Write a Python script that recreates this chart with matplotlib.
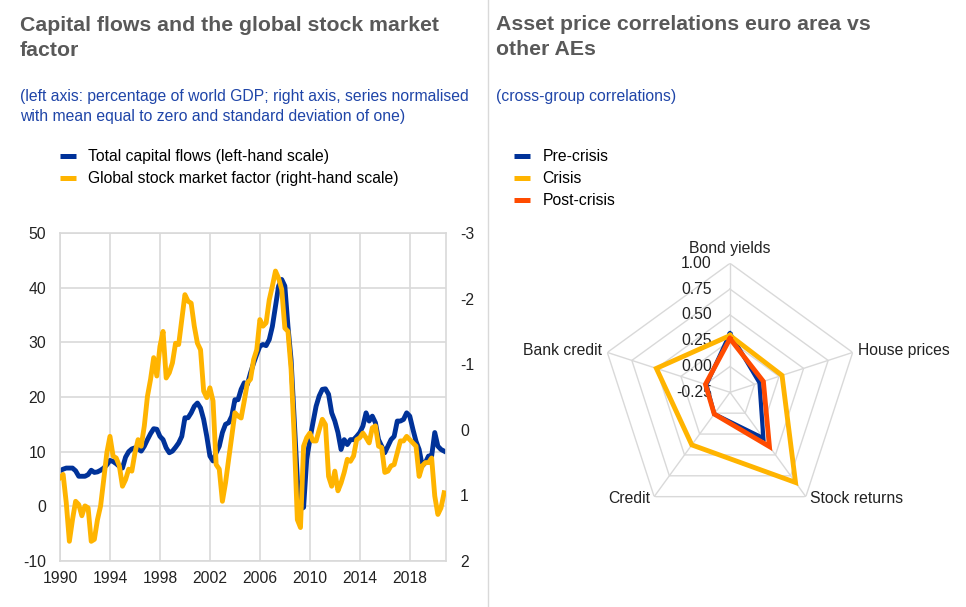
import numpy as np
import pandas as pd
import matplotlib
matplotlib.use("Agg")
import matplotlib.pyplot as plt
from matplotlib.lines import Line2D

plt.rcParams["font.family"] = ["Liberation Sans", "DejaVu Sans"]
plt.rcParams["axes.unicode_minus"] = False

# left chart: quarterly, 1990Q1 - 2020Q4
quarters = pd.period_range("1990Q1", "2020Q4", freq="Q")
capital_flows = [
    6.5, 6.8, 7.0, 7.0, 7.0, 6.5, 5.5, 5.5, 5.5, 5.8, 6.6, 6.2,
    6.3, 6.6, 7.0, 7.6, 8.4, 8.2, 7.8, 7.3, 7.0, 9.0, 10.0, 10.5,
    10.7, 10.5, 10.1, 11.0, 12.2, 13.3, 14.2, 14.1, 12.8, 12.2, 10.7, 9.8,
    10.1, 10.8, 11.6, 12.8, 16.2, 16.2, 17.1, 18.3, 18.9, 18.0, 15.9, 12.8,
    9.2, 8.3, 9.8, 11.0, 13.5, 15.0, 15.3, 16.5, 19.5, 19.5, 21.4, 22.6,
    22.3, 24.4, 26.2, 27.8, 29.3, 29.6, 29.4, 30.5, 32.9, 36.6, 40.3, 41.5,
    40.3, 32.9, 26.8, 15.9, 4.9, -0.5, -0.2, 8.6, 12.2, 15.3, 18.3, 20.2,
    21.4, 21.5, 20.5, 17.1, 15.6, 13.5, 10.4, 12.2, 11.3, 12.2, 12.2, 12.8,
    13.5, 14.7, 17.1, 15.6, 16.5, 15.3, 12.2, 11.0, 9.8, 11.0, 12.2, 12.8,
    15.6, 15.6, 15.9, 17.1, 16.5, 14.1, 11.9, 10.4, 7.4, 8.0, 9.2, 9.2,
    13.5, 11.0, 10.4, 10.1,
]
stock_factor = [
    0.73, 0.68, 1.11, 1.70, 1.37, 1.09, 1.14, 1.31, 1.16, 1.19, 1.70, 1.67,
    1.37, 1.16, 0.76, 0.35, 0.10, 0.40, 0.43, 0.55, 0.86, 0.76, 0.60, 0.63,
    0.35, 0.15, 0.25, -0.06, -0.51, -0.77, -1.10, -0.82, -1.27, -1.50, -0.79, -0.87,
    -1.02, -1.32, -1.30, -1.68, -2.06, -1.96, -1.93, -1.58, -1.32, -1.22, -0.59, -0.49,
    -0.64, -0.44, 0.53, 0.60, 1.09, 0.81, 0.45, 0.10, -0.26, -0.21, -0.18, -0.44,
    -0.72, -0.77, -1.07, -1.22, -1.68, -1.58, -1.63, -1.98, -2.19, -2.42, -2.31, -2.14,
    -1.55, -1.50, -0.92, 0.10, 1.37, 1.49, 0.25, 0.12, 0.05, 0.17, 0.17, 0.00,
    -0.16, -0.08, 0.71, 0.86, 0.63, 0.93, 0.81, 0.65, 0.45, 0.48, 0.40, 0.15,
    0.12, 0.05, 0.12, 0.20, -0.03, -0.06, 0.25, 0.27, 0.65, 0.63, 0.55, 0.53,
    0.35, 0.17, 0.17, 0.10, 0.15, 0.20, 0.25, 0.71, 0.55, 0.50, 0.50, 0.43,
    1.01, 1.29, 1.19, 0.96,
]
year_ticks = list(range(1990, 2019, 4))
left_ticks = [-10, 0, 10, 20, 30, 40, 50]
right_ticks = [-3, -2, -1, 0, 1, 2]

# right chart: radar
radar_categories = ["Bond yields", "House prices", "Stock returns", "Credit", "Bank credit"]
pre_crisis = [0.32, 0.05, 0.30, 0.01, -0.01]
crisis = [0.30, 0.28, 0.83, 0.38, 0.50]
post_crisis = [0.27, 0.09, 0.40, 0.01, 0.00]
radar_ticks = [-0.25, 0.0, 0.25, 0.5, 0.75, 1.0]

BLUE = "#003299"
YELLOW = "#ffb400"
ORANGE = "#ff4b00"
GRID = "#d9d9d9"
TITLE = "#595959"
SUB = "#1f45a8"
TXT = "#222222"
FS = 11.3

W, H = 966, 607
fig = plt.figure(figsize=(W / 100, H / 100), dpi=100)


def fx(px):
    return px / W


def fy(py):
    return 1 - py / H


# ---- titles
fig.text(fx(20), fy(31), "Capital flows and the global stock market", fontsize=15.3,
         weight="bold", color=TITLE, va="baseline")
fig.text(fx(20), fy(56), "factor", fontsize=15.3, weight="bold", color=TITLE, va="baseline")
fig.text(fx(20), fy(101), "(left axis: percentage of world GDP; right axis, series normalised",
         fontsize=FS, color=SUB, va="baseline")
fig.text(fx(20), fy(121), "with mean equal to zero and standard deviation of one)",
         fontsize=FS, color=SUB, va="baseline")

fig.text(fx(496), fy(30), "Asset price correlations euro area vs", fontsize=15.3,
         weight="bold", color=TITLE, va="baseline")
fig.text(fx(496), fy(55), "other AEs", fontsize=15.3, weight="bold", color=TITLE, va="baseline")
fig.text(fx(496), fy(101), "(cross-group correlations)", fontsize=FS, color=SUB, va="baseline")

fig.add_artist(Line2D([fx(487.5), fx(487.5)], [0, 1], transform=fig.transFigure,
                      color=GRID, lw=1))

# ---- left chart
x = quarters.year + (quarters.quarter - 1) / 4
ax = fig.add_axes([fx(60), fy(561), fx(446) - fx(60), (561 - 233) / H])
ax.plot(x, capital_flows, color=BLUE, lw=3.5, solid_joinstyle="round")
ax.set_xlim(1990, 2020.9)
ax.set_ylim(-10, 50)
ax.set_xticks(year_ticks)
ax.set_yticks(left_ticks)
ax.grid(color=GRID, lw=1.2)
ax.set_axisbelow(True)
for s in ax.spines.values():
    s.set_color(GRID)
    s.set_linewidth(1.2)
ax.tick_params(length=0, labelsize=FS, colors=TXT)
ax.tick_params(axis="y", pad=10)
ax.tick_params(axis="x", pad=7)

ax2 = ax.twinx()
ax2.plot(x, stock_factor, color=YELLOW, lw=3.5, solid_joinstyle="round")
ax2.set_ylim(2, -3)
ax2.set_yticks(right_ticks)
for s in ax2.spines.values():
    s.set_visible(False)
ax2.tick_params(length=0, labelsize=FS, colors=TXT, pad=10)

legend_kw = dict(loc="upper left", frameon=False, fontsize=FS, handlelength=1.05,
                 handletextpad=0.75, labelspacing=0.45, borderpad=0, borderaxespad=0)

h1 = [Line2D([], [], color=BLUE, lw=3.6, solid_capstyle="butt"),
      Line2D([], [], color=YELLOW, lw=3.6, solid_capstyle="butt")]
fig.legend(h1, ["Total capital flows (left-hand scale)",
                "Global stock market factor (right-hand scale)"],
           bbox_to_anchor=(fx(60), fy(149)), **legend_kw)

# ---- radar chart
cx, cy, R = 730, 392.3, 129
rax = fig.add_axes([fx(cx - R), fy(cy + R), 2 * R / W, 2 * R / H], projection="polar")
rax.set_theta_offset(np.pi / 2)
rax.set_theta_direction(-1)
rax.set_ylim(radar_ticks[0], radar_ticks[-1])
rax.grid(False)
rax.spines["polar"].set_visible(False)
rax.set_xticks([])
rax.set_yticks([])
rax.patch.set_alpha(0)

angles = np.linspace(0, 2 * np.pi, len(radar_categories), endpoint=False)
closed = np.append(angles, angles[0])
for level in radar_ticks[1:]:
    rax.plot(closed, [level] * len(closed), color=GRID, lw=1, zorder=1)
for a in angles:
    rax.plot([a, a], [radar_ticks[0], radar_ticks[-1]], color=GRID, lw=1, zorder=1)

for level in radar_ticks:
    rax.annotate(f"{level:.2f}", xy=(0, level), xytext=(-18, 0), textcoords="offset pixels",
                 ha="right", va="center", fontsize=FS, color=TXT, zorder=2)

label_pos = [((0, 10), "center", "baseline"), ((5, 2), "left", "center"),
             ((4, -2), "left", "center"), ((-4, -2), "right", "center"),
             ((-5, 2), "right", "center")]
for a, name, (off, ha, va) in zip(angles, radar_categories, label_pos):
    rax.annotate(name, xy=(a, radar_ticks[-1]), xytext=off, textcoords="offset pixels",
                 ha=ha, va=va, fontsize=FS, color=TXT, annotation_clip=False)

for vals, col, lw in [(pre_crisis, BLUE, 3.0), (crisis, YELLOW, 3.5), (post_crisis, ORANGE, 3.5)]:
    rax.plot(closed, vals + vals[:1], color=col, lw=lw, zorder=3, solid_joinstyle="miter")

h2 = [Line2D([], [], color=c, lw=3.6, solid_capstyle="butt") for c in (BLUE, YELLOW, ORANGE)]
fig.legend(h2, ["Pre-crisis", "Crisis", "Post-crisis"],
           bbox_to_anchor=(fx(514), fy(149)), **legend_kw)

fig.savefig("out.png", dpi=100)
